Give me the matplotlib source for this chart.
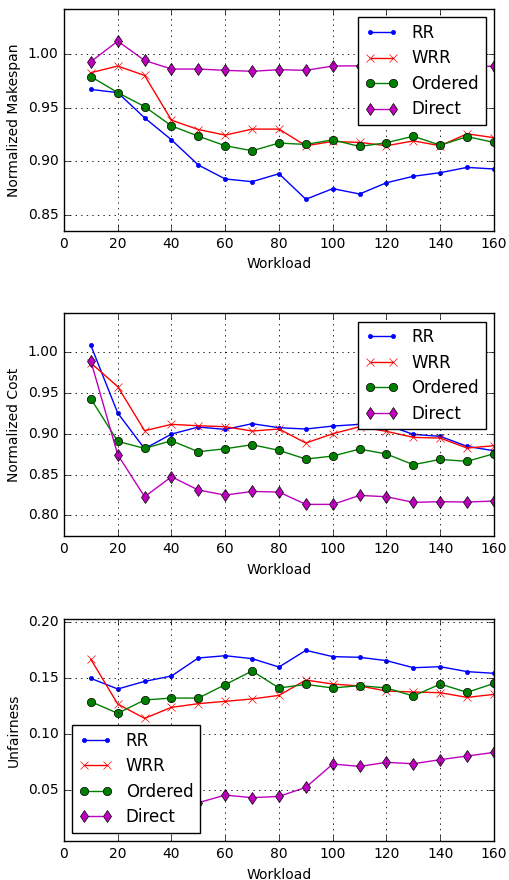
import matplotlib
matplotlib.use("Agg")
import matplotlib.pyplot as plt

plt.style.use("classic")

workload = [10, 20, 30, 40, 50, 60, 70, 80, 90, 100, 110, 120, 130, 140, 150, 160]
labels = ["RR", "WRR", "Ordered", "Direct"]

makespan_rr = [0.967, 0.964, 0.9405, 0.920, 0.8965, 0.8835, 0.881, 0.8884, 0.8646, 0.8745, 0.8695, 0.880, 0.886, 0.8894, 0.8943, 0.8928]
makespan_wrr = [0.9826, 0.9888, 0.980, 0.9383, 0.9296, 0.9244, 0.930, 0.930, 0.9145, 0.9185, 0.9176, 0.9145, 0.919, 0.9145, 0.9256, 0.922]
makespan_ord = [0.979, 0.964, 0.951, 0.933, 0.9234, 0.9145, 0.9098, 0.917, 0.9157, 0.920, 0.9138, 0.9173, 0.9234, 0.915, 0.923, 0.9176]
makespan_dir = [0.9929, 1.012, 0.994, 0.986, 0.986, 0.9848, 0.9839, 0.9854, 0.9848, 0.9888, 0.989, 0.989, 0.989, 0.989, 0.989, 0.9885]

cost_rr = [1.0086, 0.9256, 0.8818, 0.8998, 0.9084, 0.9055, 0.9125, 0.9076, 0.906, 0.9096, 0.9117, 0.911, 0.8994, 0.897, 0.8847, 0.8793]
cost_wrr = [0.987, 0.958, 0.9039, 0.9117, 0.910, 0.9088, 0.9035, 0.906, 0.8888, 0.9002, 0.9088, 0.9031, 0.8957, 0.8949, 0.8826, 0.8855]
cost_ord = [0.9431, 0.8908, 0.8822, 0.8916, 0.8781, 0.8818, 0.8867, 0.8798, 0.8691, 0.8728, 0.8814, 0.8753, 0.8622, 0.8687, 0.8663, 0.8757]
cost_dir = [0.9894, 0.8744, 0.8229, 0.8474, 0.8311, 0.8249, 0.8294, 0.8286, 0.8135, 0.8135, 0.8245, 0.8229, 0.816, 0.8168, 0.8164, 0.8176]

unf_rr = [0.1494, 0.1399, 0.1467, 0.1515, 0.1676, 0.1696, 0.167, 0.1595, 0.1744, 0.1688, 0.1682, 0.1652, 0.1589, 0.1598, 0.1554, 0.1539]
unf_wrr = [0.1664, 0.1265, 0.1137, 0.1235, 0.1268, 0.1289, 0.131, 0.1342, 0.1479, 0.1443, 0.1426, 0.1381, 0.1372, 0.1366, 0.1324, 0.1351]
unf_ord = [0.1286, 0.1182, 0.1301, 0.1318, 0.1318, 0.1438, 0.156, 0.1408, 0.144, 0.1408, 0.1429, 0.1408, 0.1336, 0.1443, 0.1369, 0.1449]
unf_dir = [0.030, 0.029, 0.032, 0.035, 0.0384, 0.0452, 0.0429, 0.044, 0.0521, 0.0729, 0.0708, 0.0744, 0.0732, 0.0768, 0.0801, 0.0833]

makespan_yticks = [0.85, 0.90, 0.95, 1.00]
cost_yticks = [0.80, 0.85, 0.90, 0.95, 1.00]
unf_yticks = [0.05, 0.10, 0.15, 0.20]
xticks = [0, 20, 40, 60, 80, 100, 120, 140, 160]

styles = [("b", "."), ("r", "x"), ("g", "o"), ("m", "d")]

fig = plt.figure(figsize=(5.09, 8.8), dpi=100)
fig.patch.set_facecolor("white")

panels = [
    ([0.1257, 0.7375, 0.8448, 0.2523], [makespan_rr, makespan_wrr, makespan_ord, makespan_dir],
     "Normalized Makespan", (0.835, 1.042), makespan_yticks, "upper right"),
    ([0.1257, 0.3909, 0.8448, 0.2531], [cost_rr, cost_wrr, cost_ord, cost_dir],
     "Normalized Cost", (0.7747, 1.048), cost_yticks, "upper right"),
    ([0.1257, 0.0443, 0.8448, 0.2527], [unf_rr, unf_wrr, unf_ord, unf_dir],
     "Unfairness", (0.0042, 0.2027), unf_yticks, "lower left"),
]

for rect, series, ylabel, ylim, yticks, loc in panels:
    ax = fig.add_axes(rect)
    for (c, m), vals, lab in zip(styles, series, labels):
        ax.plot(workload, vals, color=c, marker=m, markersize=6, label=lab,
                linewidth=1, markeredgecolor=("k" if m in ("o", "d") else c))
    ax.set_xlim(0, 160)
    ax.set_ylim(*ylim)
    ax.set_xticks(xticks)
    ax.set_yticks(yticks)
    ax.set_yticklabels(["%.2f" % v for v in yticks])
    ax.tick_params(labelsize=10)
    ax.grid(True, color="k", linestyle=":", linewidth=0.6)
    ax.set_xlabel("Workload", fontsize=10)
    ax.set_ylabel(ylabel, fontsize=10)
    leg = ax.legend(loc=loc, fontsize=12, numpoints=2, borderaxespad=0.5,
                    labelspacing=0.45)
    leg.get_frame().set_edgecolor("k")

fig.savefig("out.png", dpi=100, facecolor="white")
